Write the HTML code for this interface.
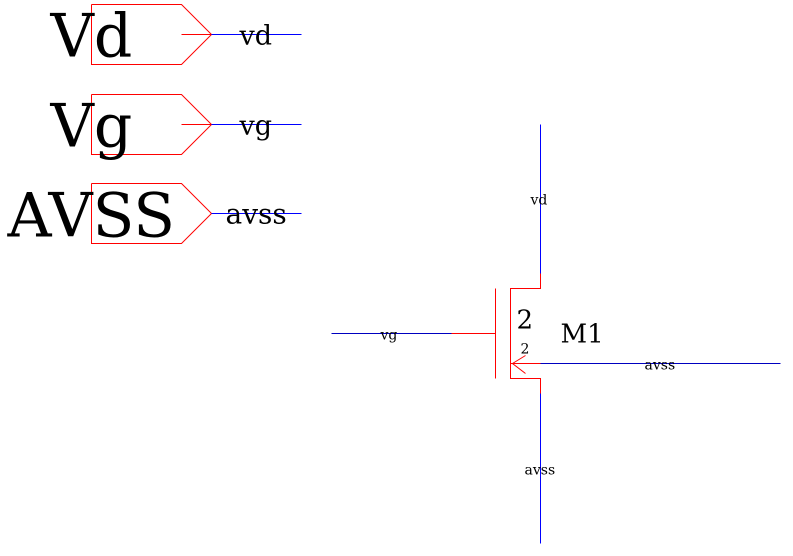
<!DOCTYPE html>
<html><head><meta charset="utf-8"><style>
html,body{margin:0;padding:0;background:#fff;width:793px;height:556px;overflow:hidden}
svg text{font-family:"DejaVu Serif","Liberation Serif",serif;fill:#000}
</style></head><body>
<svg width="793" height="556" viewBox="0 0 793 556" xmlns="http://www.w3.org/2000/svg">
<g transform="translate(0.5,0.5)">
<g>
<polyline points="91,4 181,4 211,34 181,64 91,64 91,4" fill="none" stroke="#f00" stroke-width="1"/>
<line x1="181" y1="34" x2="211" y2="34" stroke="#f00"/>
<line x1="211" y1="34" x2="301" y2="34" stroke="#00f"/>
<text x="50" y="56" font-size="60">Vd</text>
<text x="239" y="44" font-size="27">vd</text>
</g>
<g>
<polyline points="91,94 181,94 211,124 181,154 91,154 91,94" fill="none" stroke="#f00"/>
<line x1="181" y1="124" x2="211" y2="124" stroke="#f00"/>
<line x1="211" y1="124" x2="301" y2="124" stroke="#00f"/>
<text x="50" y="146" font-size="60">Vg</text>
<text x="239" y="134" font-size="27">vg</text>
</g>
<g>
<polyline points="91,183 181,183 211,213 181,243 91,243 91,183" fill="none" stroke="#f00"/>
<line x1="211" y1="213" x2="301" y2="213" stroke="#00f"/>
<text x="7" y="236" font-size="61">AVSS</text>
<text x="225" y="223" font-size="28">avss</text>
</g>
<g>
<line x1="495" y1="288" x2="495" y2="378" stroke="#f00"/>
<line x1="451" y1="333" x2="495" y2="333" stroke="#f00"/>
<polyline points="540,273 540,288 510,288 510,378 540,378 540,393" fill="none" stroke="#f00"/>
<line x1="510" y1="363" x2="540" y2="363" stroke="#f00"/>
<polyline points="525,355 512,363 525,373" fill="none" stroke="#f00"/>
<text x="516" y="328" font-size="26">2</text>
<text x="560" y="342" font-size="26">M1</text>
<text x="520" y="353" font-size="14">2</text>
</g>
<g>
<line x1="540" y1="124" x2="540" y2="273" stroke="#00f"/>
<line x1="540" y1="393" x2="540" y2="543" stroke="#00f"/>
<line x1="331" y1="333" x2="451" y2="333" stroke="#0000c0"/>
<line x1="540" y1="363" x2="780" y2="363" stroke="#0000c0"/>
<text x="530" y="204" font-size="14">vd</text>
<text x="380" y="339" font-size="14">vg</text>
<text x="644" y="369" font-size="14">avss</text>
<text x="524" y="474" font-size="14">avss</text>
</g>
</g>
</svg>
</body></html>
